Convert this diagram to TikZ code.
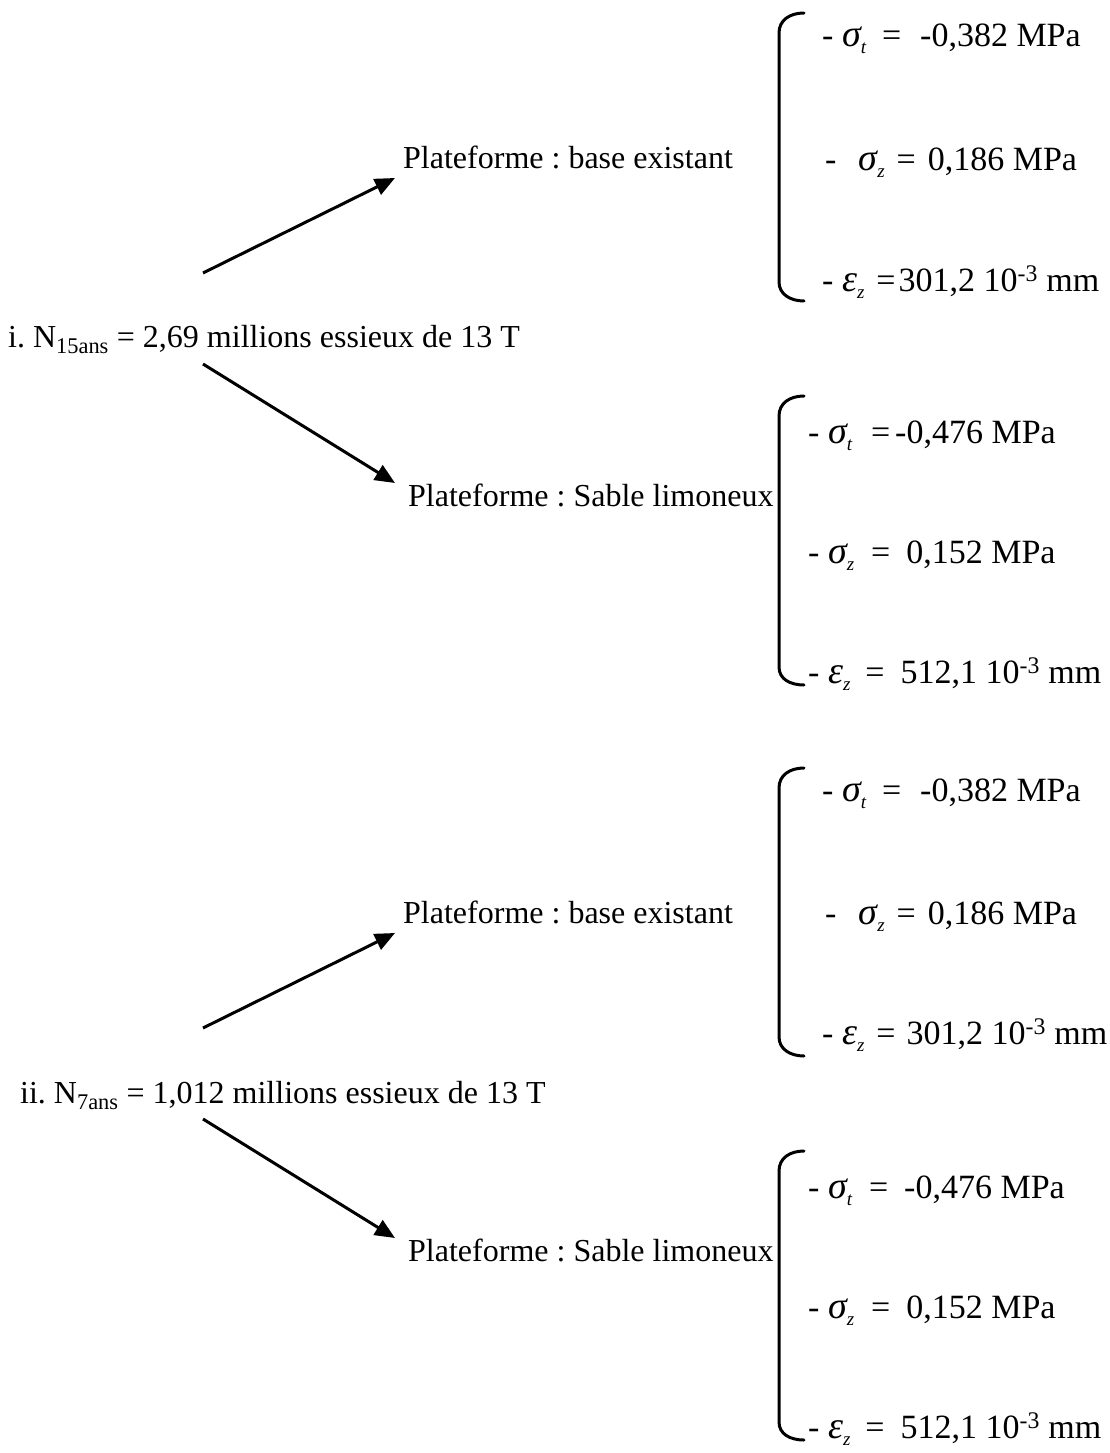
\documentclass[tikz,border=0pt]{standalone}
\usepackage{fontspec}
\setmainfont{Liberation Serif}
\usetikzlibrary{arrows.meta}
\newcommand{\grk}[2]{{\fontsize{38}{38}\selectfont\itshape #1}\raisebox{-7pt}{\fontsize{19}{19}\selectfont\itshape #2}}
\newcommand{\egal}[2]{\hspace{#1}=\hspace{#2}}
\frenchspacing

\begin{document}
\begin{tikzpicture}[x=1pt,y=-1pt,
  every node/.style={inner sep=0pt,font=\fontsize{32}{38}\selectfont},
  fleche/.style={line width=3pt,-{Triangle[length=20pt,width=17pt]}},
  accolade/.style={line width=3pt,line cap=round},
  ligne/.style={anchor=base west},
  valeur/.style={anchor=base west,font=\fontsize{34}{38}\selectfont}]
\useasboundingbox (0,0) rectangle (1109,1453);
% premier cas : 15 ans
\node[ligne] (ni) at (8,347) {i. N\textsubscript{15ans} = 2,69 millions essieux de 13 T};
\node[ligne] (pb1) at (403,168) {Plateforme : base existant};
\node[ligne] (ps1) at (408,506) {Plateforme : Sable limoneux};
\coordinate (s1) at (203,273);
\coordinate (t1) at (395,178);
\coordinate (s2) at (203,364);
\coordinate (t2) at (395,483);
\draw[fleche] (s1) -- (t1);
\draw[fleche] (s2) -- (t2);
\draw[accolade] (804,13) .. controls (790,13) and (779,20) .. (779,33) -- (779,282) .. controls (779,294) and (790,301) .. (804,301);
\node[valeur] (v11) at (822,47) {- \grk{σ}{t}\egal{16pt}{19pt}-0,382 MPa};
\node[valeur] (v12) at (825,170) {-\hspace{22pt}\grk{σ}{z}\egal{12pt}{12pt}0,186 MPa};
\node[valeur] (v13) at (822,291) {- \grk{ε}{z}\egal{12pt}{3pt}301,2 10\textsuperscript{-3} mm};
\draw[accolade] (804,396) .. controls (790,396) and (779,403) .. (779,416) -- (779,667) .. controls (779,679) and (790,685) .. (804,685);
\node[valeur] (v21) at (808,443) {- \grk{σ}{t}\egal{19pt}{5pt}-0,476 MPa};
\node[valeur] (v22) at (808,563) {- \grk{σ}{z}\egal{17pt}{16pt}0,152 MPa};
\node[valeur] (v23) at (808,683) {- \grk{ε}{z}\egal{15pt}{16pt}512,1 10\textsuperscript{-3} mm};
% second cas : 7 ans
\node[ligne] (nii) at (20,1103) {ii. N\textsubscript{7ans} = 1,012 millions essieux de 13 T};
\node[ligne] (pb2) at (403,923) {Plateforme : base existant};
\node[ligne] (ps2) at (408,1261) {Plateforme : Sable limoneux};
\coordinate (s3) at (203,1028);
\coordinate (t3) at (395,933);
\coordinate (s4) at (203,1119);
\coordinate (t4) at (395,1238);
\draw[fleche] (s3) -- (t3);
\draw[fleche] (s4) -- (t4);
\draw[accolade] (804,768) .. controls (790,768) and (779,775) .. (779,788) -- (779,1037) .. controls (779,1049) and (790,1056) .. (804,1056);
\node[valeur] (v31) at (822,801) {- \grk{σ}{t}\egal{16pt}{19pt}-0,382 MPa};
\node[valeur] (v32) at (825,924) {-\hspace{22pt}\grk{σ}{z}\egal{12pt}{12pt}0,186 MPa};
\node[valeur] (v33) at (822,1044) {- \grk{ε}{z}\egal{12pt}{11pt}301,2 10\textsuperscript{-3} mm};
\draw[accolade] (804,1151) .. controls (790,1151) and (779,1158) .. (779,1171) -- (779,1422) .. controls (779,1434) and (790,1440) .. (804,1440);
\node[valeur] (v41) at (808,1198) {- \grk{σ}{t}\egal{17pt}{16pt}-0,476 MPa};
\node[valeur] (v42) at (808,1318) {- \grk{σ}{z}\egal{17pt}{16pt}0,152 MPa};
\node[valeur] (v43) at (808,1438) {- \grk{ε}{z}\egal{15pt}{16pt}512,1 10\textsuperscript{-3} mm};
\end{tikzpicture}
\end{document}
